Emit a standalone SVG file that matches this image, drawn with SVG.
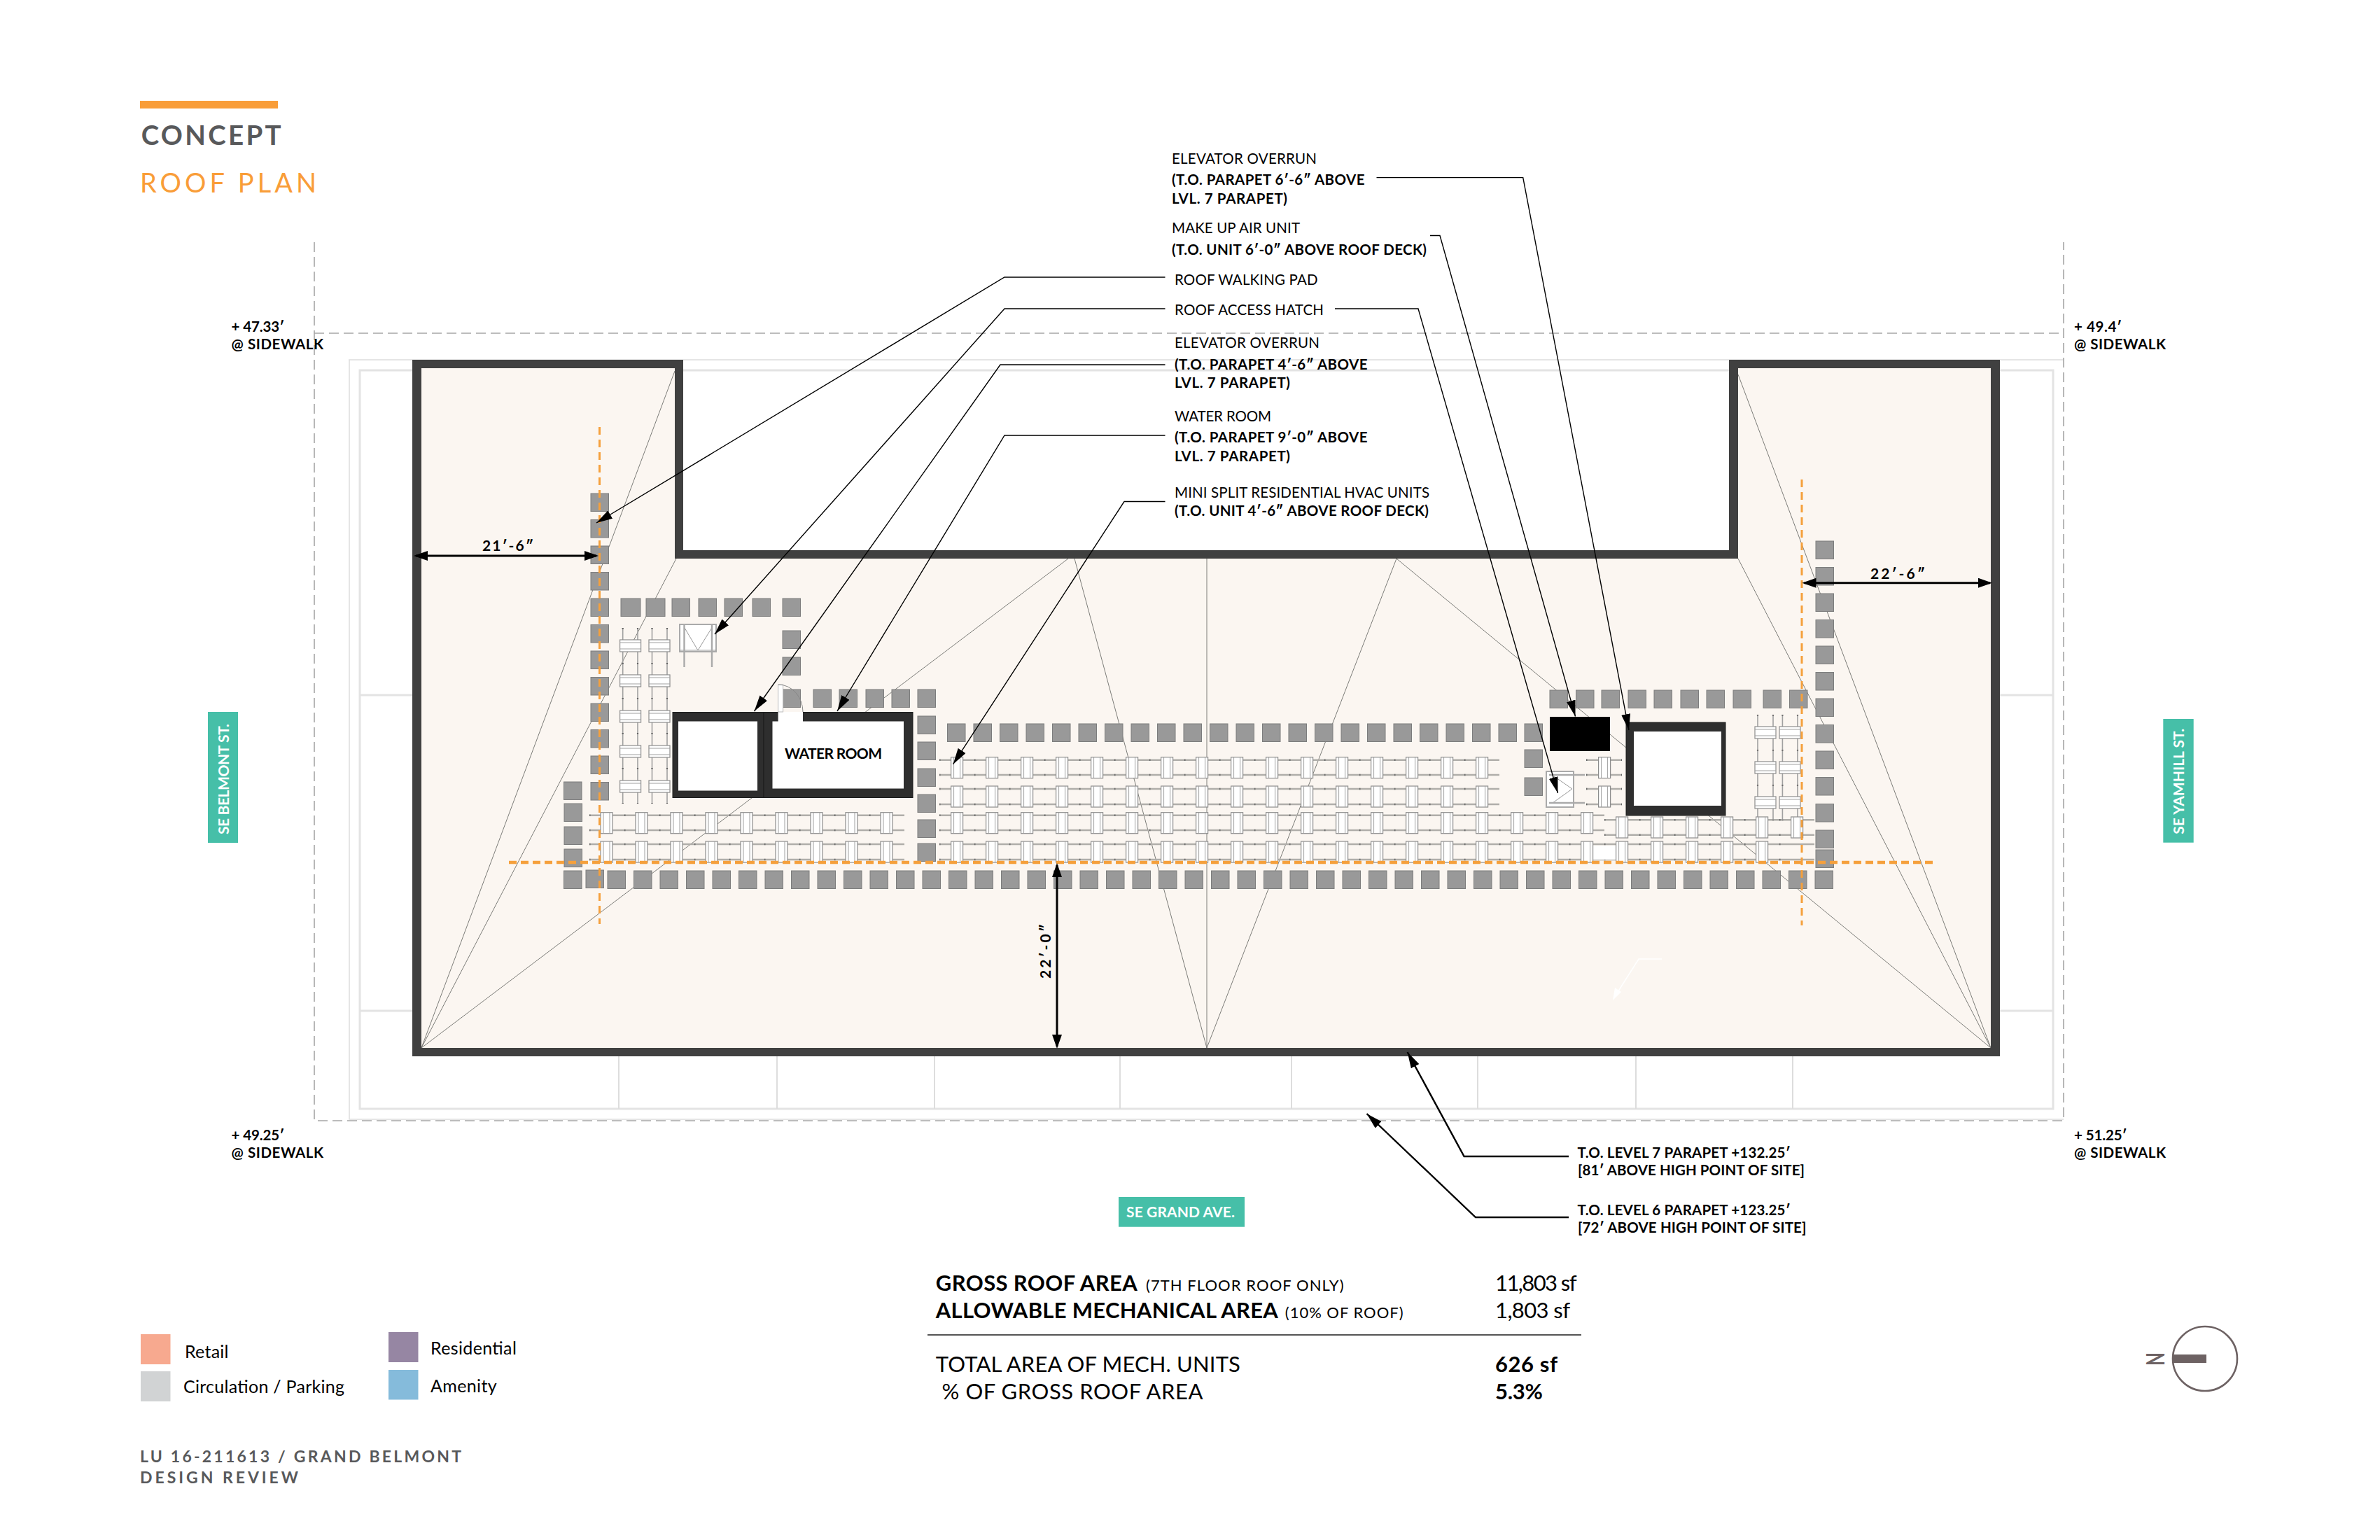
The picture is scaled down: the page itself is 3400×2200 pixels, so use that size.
<svg xmlns="http://www.w3.org/2000/svg" width="3400" height="2200" viewBox="0 0 3400 2200">
<style>
text{font-family:"Lato","Liberation Sans",sans-serif;fill:#000;font-weight:400}
.b{font-weight:700}
.l{font-size:20.5px}
.g{fill:#58595b}
.o{fill:#f99d38}
.w{fill:#fff;font-weight:700;font-size:21px}
.t{font-size:31px}
.p{font-size:22px}
.k{font-size:25px}
.site{fill:none;stroke:#ddd;stroke-width:1.5}
.site2{fill:none;stroke:#e3e3e3;stroke-width:3}
.dash{fill:none;stroke:#a6a6a6;stroke-width:1.6;stroke-dasharray:14 7}
.slope{fill:none;stroke:#7c7c78;stroke-width:1}
.sq{fill:#999;stroke:#7d7d7d;stroke-width:1}
.rail{fill:none;stroke:#b0aeaa;stroke-width:2.6}
.tick{fill:none;stroke:#666;stroke-width:2.6;stroke-dasharray:1.5 48.5}
.vrail{fill:none;stroke:#a0a0a0;stroke-width:1.6}
.vtick{fill:none;stroke:#555;stroke-width:2.2;stroke-dasharray:1.5 48.5}
.unit{fill:#fff;stroke:#8c8c8c;stroke-width:1.2}
.in{fill:none;stroke:#a0a0a0;stroke-width:1}
.orange{fill:none;stroke:#f5a03c;stroke-width:3;stroke-dasharray:11 7}
.orangeh{fill:none;stroke:#f5a03c;stroke-width:4.5;stroke-dasharray:11 6}
.leader{fill:none;stroke:#000;stroke-width:1.4;marker-end:url(#ah)}
.leaderk{fill:none;stroke:#000;stroke-width:2.4;marker-end:url(#ah)}
.dim{fill:none;stroke:#000;stroke-width:3;marker-start:url(#dh);marker-end:url(#dh)}
.wall{fill:#2e2e2e;stroke:#1c1c1c;stroke-width:1}
.hatch{fill:#fff;stroke:#aaa;stroke-width:2}
.hl{fill:none;stroke:#999;stroke-width:1}
.hb{fill:none;stroke:#aaa;stroke-width:2.4}
.tag{fill:#46bfa8}
</style>
<defs>
<marker id="ah" markerUnits="userSpaceOnUse" markerWidth="24" markerHeight="14" refX="23" refY="6.5" orient="auto"><path d="M0,0 L23,6.5 L0,13 z" fill="#000"/></marker>
<marker id="dh" markerUnits="userSpaceOnUse" markerWidth="20" markerHeight="16" refX="17" refY="7" orient="auto-start-reverse"><path d="M0,0 L20,7 L0,14 z" fill="#000"/></marker>
<rect id="s" class="sq" width="25.5" height="25.5"/>
<g id="r5"><use href="#s"/><use href="#s" x="37.5"/><use href="#s" x="75"/><use href="#s" x="112.5"/><use href="#s" x="150"/></g>
<g id="c5"><use href="#s"/><use href="#s" y="37.5"/><use href="#s" y="75"/><use href="#s" y="112.5"/><use href="#s" y="150"/></g>
<g id="u"><rect class="unit" width="17" height="30"/><path class="in" d="M4,0V30M13,0V30"/></g>
<g id="u2"><use href="#u"/><use href="#u" x="50"/></g>
<g id="u4"><use href="#u2"/><use href="#u2" x="100"/></g>
<g id="u8"><use href="#u4"/><use href="#u4" x="200"/></g>
<g id="v"><rect class="unit" width="30" height="17"/><path class="in" d="M0,4H30M0,13H30"/></g>
<path id="railsA" d="M842,1164.7H1292M842,1186H1292M842,1206H1292M842,1228H1292"/>
<path id="railsB" d="M1342,1085.7H2142M1342,1107H2142M1342,1127H2142M1342,1149H2142M1342,1164.7H2292M1342,1186H2292M1342,1206H2592M1342,1228H2592M2292,1171.3H2592M2292,1192.7H2592M2266,1085.7H2317M2266,1107H2317M2266,1127H2317M2266,1149H2317"/>
<path id="vrailsA" d="M889.7,897V1148M911,897V1148M931.5,897V1148M953,897V1148"/>
<path id="vrailsB" d="M2511,1021V1172M2533,1021V1172M2546.4,1021V1172M2568,1021V1172"/>
</defs>
<rect width="3400" height="2200" fill="#fff"/>
<g id="site">
<path class="site" d="M498,514H2948M499,514V1599H2948"/>
<path class="site2" d="M514,529H2933V1584H514z"/>
<path class="site2" d="M514,993H589M514,1444H589M2857,993H2933M2857,1444H2933"/>
<path class="site" style="stroke-width:2" d="M884,1507V1584M1110,1507V1584M1335,1507V1584M1600,1507V1584M1845,1507V1584M2111,1507V1584M2337,1507V1584M2561,1507V1584"/>
<path class="dash" d="M449,346V1601H2948V346M449,476H2948"/>
</g>
<g id="roof">
<path fill="#fbf6f1" d="M602,526H964V798H2483V526H2844V1497H602z"/>
<path class="slope" d="M602,1497L964,530M602,1497L966,798M602,1497L1526,798M1535,798L1724,1497M1724,798V1497M1995,798L1724,1497M1995,798L2844,1497M2483,535L2844,1497M2483,798L2844,1497"/>
<path d="M2374,1370H2341L2308,1422" fill="none" stroke="#fff" stroke-width="1.6"/>
<path d="M2304,1429L2307,1411L2316,1417z" fill="#fff"/>
<path fill="#404040" fill-rule="evenodd" d="M589,514H976V786H2470V514H2857V1509H589z M602,526V1497H2844V526H2483V798H964V526z"/>
</g>
<g id="walking-pads">
<use href="#c5" x="844" y="705"/><use href="#c5" x="844" y="892.5"/><use href="#s" x="844" y="1080"/><use href="#s" x="844" y="1117.5"/>
<rect class="sq" x="887" y="855" width="28" height="25.5"/><rect class="sq" x="923" y="855" width="27" height="25.5"/>
<use href="#s" x="960" y="855"/><use href="#s" x="998" y="855"/><use href="#s" x="1035" y="855"/><use href="#s" x="1075" y="855"/><use href="#s" x="1118" y="855"/>
<use href="#s" x="1118" y="901"/><use href="#s" x="1118" y="939"/>
<use href="#s" x="1118" y="985"/><use href="#s" x="1162" y="985"/><use href="#s" x="1199" y="985"/><use href="#s" x="1237" y="985"/><use href="#s" x="1274" y="985"/><use href="#s" x="1311" y="985"/>
<use href="#s" x="1311" y="1023"/><use href="#s" x="1311" y="1060"/><use href="#s" x="1311" y="1098"/><use href="#s" x="1311" y="1135"/><use href="#s" x="1311" y="1171"/><use href="#s" x="1311" y="1205"/>
<use href="#r5" x="1353.5" y="1034"/><use href="#r5" x="1541" y="1034"/><use href="#r5" x="1728.5" y="1034"/><use href="#r5" x="1916" y="1034"/><use href="#s" x="2103.5" y="1034"/><use href="#s" x="2141" y="1034"/><use href="#s" x="2178" y="1034"/>
<use href="#s" x="2178" y="1071"/><use href="#s" x="2178" y="1111"/>
<use href="#s" x="2214" y="986"/><use href="#s" x="2251.5" y="986"/><use href="#s" x="2288" y="986"/><use href="#s" x="2326" y="986"/><use href="#s" x="2363" y="986"/><use href="#s" x="2401" y="986"/><use href="#s" x="2438" y="986"/><use href="#s" x="2476" y="986"/><use href="#s" x="2519" y="986"/><use href="#s" x="2556.5" y="986"/>
<use href="#c5" x="2594" y="773"/><use href="#c5" x="2594" y="960.5"/><use href="#s" x="2594" y="1148.5"/><use href="#s" x="2594" y="1186"/><use href="#s" x="2594" y="1214"/>
<use href="#s" x="805.5" y="1117"/><use href="#s" x="806" y="1148"/><use href="#s" x="806" y="1181"/><use href="#s" x="806" y="1213"/>
<use href="#s" x="805.5" y="1244"/><use href="#s" x="837" y="1243"/>
<use href="#r5" x="868" y="1244"/><use href="#r5" x="1055.5" y="1244"/><use href="#r5" x="1243" y="1244"/><use href="#r5" x="1430.5" y="1244"/><use href="#r5" x="1618" y="1244"/><use href="#r5" x="1805.5" y="1244"/><use href="#r5" x="1993" y="1244"/><use href="#r5" x="2180.5" y="1244"/><use href="#r5" x="2368" y="1244"/><use href="#s" x="2555.5" y="1244"/><use href="#s" x="2593" y="1244"/>
</g>
<g id="mini-split-units">
<use href="#railsA" class="rail"/><use href="#railsA" class="tick"/>
<use href="#railsB" class="rail"/><use href="#railsB" class="tick"/>
<use href="#vrailsA" class="vrail"/><use href="#vrailsA" class="vtick"/>
<use href="#vrailsB" class="vrail"/><use href="#vrailsB" class="vtick"/>
<rect x="2276" y="1208" width="33" height="20" fill="#fff"/>
<use href="#u8" x="858" y="1160.7"/><use href="#u" x="1258" y="1160.7"/>
<use href="#u8" x="858" y="1202"/><use href="#u" x="1258" y="1202"/>
<use href="#u8" x="1358.6" y="1081.7"/><use href="#u8" x="1758.6" y="1081.7"/>
<use href="#u8" x="1358.6" y="1123"/><use href="#u8" x="1758.6" y="1123"/>
<use href="#u8" x="1358.6" y="1160.7"/><use href="#u8" x="1758.6" y="1160.7"/><use href="#u2" x="2158.6" y="1160.7"/><use href="#u" x="2258.6" y="1160.7"/>
<use href="#u8" x="1358.6" y="1202"/><use href="#u8" x="1758.6" y="1202"/><use href="#u4" x="2158.6" y="1202"/><use href="#u2" x="2358.6" y="1202"/><use href="#u2" x="2458.6" y="1202"/>
<use href="#u4" x="2308.6" y="1167"/><use href="#u2" x="2508.6" y="1167"/>
<use href="#u" x="2283.6" y="1081.7"/><use href="#u" x="2283.6" y="1123"/>
<use href="#v" x="885.6" y="914"/><use href="#v" x="885.6" y="964"/><use href="#v" x="885.6" y="1015"/><use href="#v" x="885.6" y="1065"/><use href="#v" x="885.6" y="1115"/>
<use href="#v" x="927" y="914"/><use href="#v" x="927" y="964"/><use href="#v" x="927" y="1015"/><use href="#v" x="927" y="1065"/><use href="#v" x="927" y="1115"/>
<use href="#v" x="2507" y="1038"/><use href="#v" x="2507" y="1088"/><use href="#v" x="2507" y="1138"/>
<use href="#v" x="2542" y="1038"/><use href="#v" x="2542" y="1088"/><use href="#v" x="2542" y="1138"/>
</g>
<g id="roof-access-hatch-west">
<rect class="hatch" x="971" y="892" width="52" height="39"/>
<path class="hl" d="M978,897L997,929L1018,895M971,929H1023"/>
<path class="hb" d="M977.5,893V953M1017,893V953"/>
</g>
<g id="roof-access-hatch-east">
<rect class="hatch" x="2209" y="1102" width="39" height="51"/>
<path class="hl" d="M2220,1109L2246,1127L2218,1147"/>
<path class="hb" d="M2213,1107H2264M2213,1147H2264"/>
</g>
<g id="elevator-overrun-west">
<rect class="wall" x="961" y="1017.5" width="130" height="122"/>
<rect x="969" y="1030.5" width="113" height="99" fill="#fff"/>
</g>
<g id="water-room">
<rect class="wall" x="1091" y="1017.5" width="213" height="122"/>
<rect x="1103.5" y="1030.5" width="187.5" height="96" fill="#fff"/>
<rect x="1111.6" y="1017" width="35.4" height="14" fill="#fff"/>
<rect x="1111.6" y="978" width="7" height="39" fill="#fff" stroke="#bbb" stroke-width="1"/>
<path d="M1112,978A35,39 0 0 1 1147,1017" fill="none" stroke="#888" stroke-width="1"/>
<text class="b" x="1121" y="1083.5" font-size="21" textLength="139">WATER ROOM</text>
</g>
<g id="make-up-air-unit"><rect x="2214" y="1024" width="86" height="49" fill="#000"/></g>
<g id="elevator-overrun-east">
<rect class="wall" x="2323" y="1032" width="142" height="133"/>
<rect x="2334" y="1045" width="125" height="106" fill="#fff"/>
</g>
<g id="orange-lines">
<path class="orange" d="M856.5,610V1320M2574,685V1322"/>
<path class="orangeh" d="M727,1232H2763"/>
</g>
<g id="connectors">
<path class="leader" d="M1664.5,396H1435L852,747"/>
<path class="leader" d="M1664.5,441H1435L1021,906"/>
<path class="leader" d="M1664.5,521H1429L1077.5,1016"/>
<path class="leader" d="M1664.5,622H1435L1196,1016"/>
<path class="leader" d="M1664.5,716.5H1606L1361.6,1091.7"/>
<path class="leader" d="M1966.5,253.6H2175.7L2327,1043"/>
<path class="leader" d="M2043,336.5H2057L2250.5,1023.5"/>
<path class="leader" d="M1907,441H2026L2225.5,1133"/>
<path class="leaderk" d="M2241,1652H2091.6L2010.6,1503"/>
<path class="leaderk" d="M2241,1739H2108L1952.5,1591"/>
<path class="dim" d="M594,794H852"/>
<path class="dim" d="M2577.5,832.7H2843"/>
<path class="dim" d="M1510,1236V1495"/>
</g>
<g id="dimensions">
<text class="b" x="689" y="787" font-size="21" textLength="73">21′-6″</text>
<text class="b" x="2672" y="826.5" font-size="21" textLength="78">22′-6″</text>
<text class="b" transform="translate(1501,1398) rotate(-90)" font-size="21" textLength="78">22′-0″</text>
</g>
<g id="callouts">
<text class="l" x="1674" y="234" textLength="207">ELEVATOR OVERRUN</text>
<text class="l b" x="1674" y="263.6" textLength="275.5">(T.O. PARAPET 6′-6″ ABOVE</text>
<text class="l b" x="1674" y="290.6" textLength="165">LVL. 7 PARAPET)</text>
<text class="l" x="1674" y="333" textLength="183">MAKE UP AIR UNIT</text>
<text class="l b" x="1674" y="363.5" textLength="364">(T.O. UNIT 6′-0″ ABOVE ROOF DECK)</text>
<text class="l" x="1678" y="407" textLength="204.6">ROOF WALKING PAD</text>
<text class="l" x="1678" y="449.5" textLength="213">ROOF ACCESS HATCH</text>
<text class="l" x="1678" y="496.5" textLength="207">ELEVATOR OVERRUN</text>
<text class="l b" x="1678" y="527.7" textLength="275.5">(T.O. PARAPET 4′-6″ ABOVE</text>
<text class="l b" x="1678" y="554" textLength="165">LVL. 7 PARAPET)</text>
<text class="l" x="1678" y="601.7" textLength="138">WATER ROOM</text>
<text class="l b" x="1678" y="632" textLength="275.5">(T.O. PARAPET 9′-0″ ABOVE</text>
<text class="l b" x="1678" y="659" textLength="165">LVL. 7 PARAPET)</text>
<text class="l" x="1678" y="711" textLength="364">MINI SPLIT RESIDENTIAL HVAC UNITS</text>
<text class="l b" x="1678" y="737.4" textLength="363">(T.O. UNIT 4′-6″ ABOVE ROOF DECK)</text>
<text class="l b" x="2253.6" y="1653.7" textLength="304">T.O. LEVEL 7 PARAPET +132.25′</text>
<text class="l b" x="2254" y="1678.7" textLength="324">[81′ ABOVE HIGH POINT OF SITE]</text>
<text class="l b" x="2253.6" y="1736" textLength="304">T.O. LEVEL 6 PARAPET +123.25′</text>
<text class="l b" x="2254" y="1761" textLength="326.5">[72′ ABOVE HIGH POINT OF SITE]</text>
</g>
<g id="elevations">
<text class="l b" x="330.6" y="474" textLength="75.5">+ 47.33′</text>
<text class="l b" x="330.6" y="499" textLength="131.5">@ SIDEWALK</text>
<text class="l b" x="2963" y="474" textLength="68">+ 49.4′</text>
<text class="l b" x="2963" y="499" textLength="131">@ SIDEWALK</text>
<text class="l b" x="330.6" y="1629" textLength="75.5">+ 49.25′</text>
<text class="l b" x="330.6" y="1654" textLength="131.5">@ SIDEWALK</text>
<text class="l b" x="2963" y="1629" textLength="75.5">+ 51.25′</text>
<text class="l b" x="2963" y="1654" textLength="131">@ SIDEWALK</text>
</g>
<g id="street-se-belmont"><rect class="tag" x="297" y="1017" width="43" height="187"/><text class="w" transform="translate(327,1192) rotate(-90)" textLength="158">SE BELMONT ST.</text></g>
<g id="street-se-yamhill"><rect class="tag" x="3090.3" y="1027" width="43.4" height="176.7"/><text class="w" transform="translate(3120,1191.7) rotate(-90)" textLength="151">SE YAMHILL ST.</text></g>
<g id="street-se-grand"><rect class="tag" x="1598" y="1710" width="180" height="42.7"/><text class="w" x="1609" y="1739" textLength="155">SE GRAND AVE.</text></g>
<g id="title">
<rect x="200" y="144" width="197" height="11" fill="#f99d38"/>
<text class="b g" x="201.7" y="207" font-size="38.5" textLength="200">CONCEPT</text>
<text class="o" x="200" y="275" font-size="38" textLength="252">ROOF PLAN</text>
</g>
<g id="area-table">
<text class="t b" x="1336.8" y="1844" textLength="288">GROSS ROOF AREA</text>
<text class="p" x="1637" y="1844" textLength="282.6">(7TH FLOOR ROOF ONLY)</text>
<text class="t b" x="1336.8" y="1883" textLength="489">ALLOWABLE MECHANICAL AREA</text>
<text class="p" x="1835.8" y="1883" textLength="168.8">(10% OF ROOF)</text>
<text class="t" x="2136" y="1844" textLength="116.5">11,803 sf</text>
<text class="t" x="2136" y="1883" textLength="107">1,803 sf</text>
<path d="M1325,1907H2259" stroke="#555" stroke-width="2" fill="none"/>
<text class="t" x="1336.8" y="1960" textLength="435">TOTAL AREA OF MECH. UNITS</text>
<text class="t" x="1345.5" y="1999" textLength="373">% OF GROSS ROOF AREA</text>
<text class="t b" x="2136" y="1960" textLength="89">626 sf</text>
<text class="t b" x="2136" y="1999" textLength="68">5.3%</text>
</g>
<g id="legend">
<rect x="201" y="1906" width="42.5" height="43" fill="#f7a98f"/><text class="k" x="264" y="1940" textLength="62.5">Retail</text>
<rect x="201" y="1959" width="42.5" height="43" fill="#d1d3d4"/><text class="k" x="262" y="1989.7" textLength="230">Circulation / Parking</text>
<rect x="555" y="1903" width="42.5" height="43" fill="#9686a3"/><text class="k" x="615" y="1935" textLength="122.8">Residential</text>
<rect x="555" y="1957" width="42.5" height="42.5" fill="#85bbdb"/><text class="k" x="615" y="1988.7" textLength="94.6">Amenity</text>
</g>
<g id="project">
<text class="b g" x="200" y="2088.7" font-size="23" textLength="459">LU 16-211613 / GRAND BELMONT</text>
<text class="b g" x="200" y="2119" font-size="23" textLength="226">DESIGN REVIEW</text>
</g>
<g id="north-arrow">
<circle cx="3150" cy="1941" r="46" fill="none" stroke="#6d6263" stroke-width="2.6"/>
<rect x="3103" y="1935" width="49" height="12" fill="#6d6263"/>
<text class="b" transform="translate(3092,1951) rotate(-90)" font-size="36" textLength="19" lengthAdjust="spacingAndGlyphs" style="fill:#6d6263">N</text>
</g>
</svg>
